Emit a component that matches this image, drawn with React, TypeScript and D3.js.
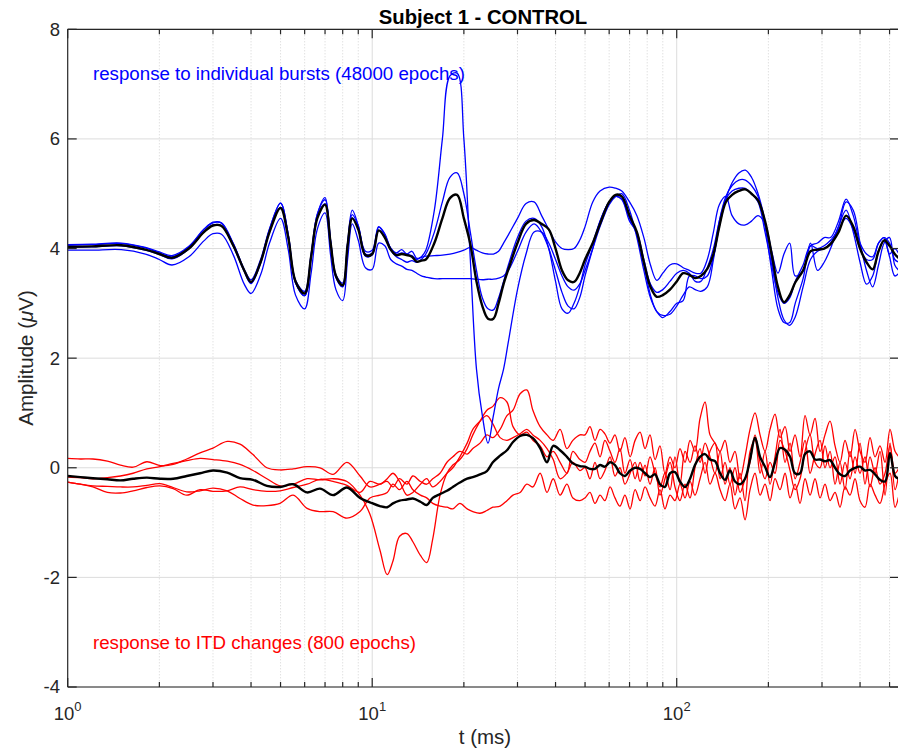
import React from 'react';
import * as d3 from 'd3';

/* ---- burst responses (upper group), t in ms, amplitude in uV ---- */
const burstT = [
  1, 1.2, 1.5, 1.8, 2, 2.2, 2.5, 2.8, 3, 3.2,
  3.5, 3.8, 4, 4.3, 4.6, 5, 5.3, 5.6, 6, 6.3,
  6.6, 7, 7.3, 7.6, 8, 8.3, 8.6, 9, 9.5, 10,
  10.5, 11, 11.5, 12, 12.5, 13, 13.5, 14, 14.5, 15,
  16, 17, 18, 19, 20, 21, 22, 23, 24, 25,
  26, 27, 28, 30, 32, 34, 36, 38, 40, 42,
  44, 46, 48, 50, 53, 56, 60, 63, 66, 70,
  74, 78, 82, 86, 90, 95, 100, 105, 110, 115,
  120, 126, 132, 138, 145, 152, 160, 168, 176, 185,
  195, 205, 215, 225, 235, 245, 260, 275, 290, 305,
  320, 340, 360, 380, 400, 420, 440, 460, 480, 500,
  520, 537,
];

const burstMean = [
  4.03, 4.04, 4.06, 3.98, 3.9, 3.83, 4.0, 4.3, 4.42, 4.41,
  4.05, 3.6, 3.39, 3.75, 4.3, 4.74, 4.2, 3.4, 3.18, 3.85,
  4.55, 4.8, 4.1, 3.5, 3.33, 4.05, 4.55, 4.35, 3.88, 3.9,
  4.33, 4.2, 3.98, 3.88, 3.9, 3.88, 3.85, 3.76, 3.78, 3.8,
  4.1, 4.55, 4.92, 4.98, 4.55, 4.08, 3.4, 2.95, 2.72, 2.72,
  3.0, 3.35, 3.62, 4.1, 4.45, 4.52, 4.45, 4.35, 4.0, 3.6,
  3.42, 3.39, 3.55, 3.8, 4.1, 4.45, 4.85, 4.98, 4.95, 4.6,
  4.3, 3.75, 3.3, 3.12, 3.15, 3.25, 3.4, 3.55, 3.52, 3.46,
  3.5, 3.63, 3.9, 4.4, 4.85, 4.98, 5.05, 5.08, 5.0, 4.88,
  4.5, 3.9, 3.3, 3.02, 3.15, 3.38, 3.6, 3.95, 3.98, 4.0,
  4.08, 4.3, 4.6, 4.4, 4.0, 3.75, 3.62, 3.95, 4.15, 4.05,
  3.9, 3.82,
];

const burstRun1 = [
  4.07, 4.08, 4.1, 4.02, 3.94, 3.87, 4.04, 4.35, 4.47, 4.46,
  4.09, 3.62, 3.43, 3.8, 4.36, 4.83, 4.26, 3.42, 3.22, 3.9,
  4.62, 4.93, 4.15, 3.52, 3.37, 4.1, 4.7, 4.42, 3.95, 3.97,
  4.4, 4.27, 4.0, 3.9, 3.92, 3.9, 3.87, 3.8, 3.85, 3.97,
  4.7, 6.0, 7.15, 7.2, 6.0, 3.8, 1.8, 0.95, 0.45, 0.95,
  1.45, 1.8, 2.3, 3.25, 3.9, 4.3, 4.3, 4.1, 3.8, 3.5,
  3.3, 3.24, 3.35, 3.6, 4.0, 4.4, 4.8, 4.95, 5.0, 4.7,
  4.2, 3.6, 3.1, 2.85, 2.74, 2.85, 3.0, 3.05, 3.5, 3.5,
  3.45, 3.5, 3.85, 4.4, 4.9, 5.2, 5.38, 5.43, 5.3, 5.0,
  4.5, 3.8, 3.1, 2.7, 2.6, 2.75, 3.3, 3.8, 3.95, 4.0,
  4.1, 4.4, 4.85, 4.7, 4.1, 3.6, 3.3, 3.7, 4.1, 4.2,
  3.7, 3.6,
];

const burstRun2 = [
  4.06, 4.07, 4.09, 4.01, 3.92, 3.85, 4.03, 4.35, 4.48, 4.47,
  4.08, 3.6, 3.37, 3.76, 4.35, 4.83, 4.25, 3.38, 3.14, 3.87,
  4.62, 4.89, 4.14, 3.49, 3.31, 4.08, 4.62, 4.41, 3.9, 3.92,
  4.39, 4.25, 4.01, 3.92, 3.98, 3.9, 3.95, 3.82, 3.84, 3.86,
  3.87, 3.88, 3.9, 3.93, 3.97, 4.02, 3.97, 3.92, 3.9, 3.9,
  3.95, 4.1, 4.25, 4.55, 4.82, 4.85, 4.6, 4.35, 4.12, 4.0,
  3.98, 4.0, 4.15, 4.4, 4.85, 5.05, 5.12, 5.1, 5.05, 4.85,
  4.6, 4.2, 3.7, 3.42, 3.55, 3.7, 3.72, 3.65, 3.6, 3.55,
  3.55, 3.8, 4.3, 4.8, 4.95, 4.6, 4.45, 4.43, 4.5, 4.6,
  4.45, 3.95, 3.55, 3.9, 4.1, 3.5, 3.6, 4.05, 4.1, 4.2,
  4.2, 4.5, 4.9, 4.6, 4.1, 3.9, 3.85, 4.1, 4.2, 3.9,
  4.0, 3.9,
];

const burstRun3 = [
  3.97, 3.97, 3.98, 3.9, 3.8, 3.7, 3.85, 4.14, 4.27, 4.26,
  3.88, 3.35, 3.18, 3.52, 4.1, 4.55, 3.98, 3.15, 2.9, 3.55,
  4.35, 4.65, 3.88, 3.25, 3.05, 3.8, 4.45, 4.15, 3.65, 3.62,
  4.1, 4.05, 3.8, 3.72, 3.68, 3.62, 3.6, 3.55, 3.5, 3.48,
  3.45, 3.45, 3.45, 3.45, 3.45, 3.45, 3.44, 3.43, 3.44, 3.44,
  3.46, 3.5, 3.6, 3.95, 4.3, 4.45, 4.3, 4.0, 3.6, 3.2,
  2.95, 2.9, 3.1, 3.5, 4.0, 4.5, 4.85, 4.95, 4.9, 4.55,
  4.25, 3.7, 3.15, 2.85, 2.78, 2.8, 2.95, 3.15, 3.3, 3.25,
  3.22, 3.3, 3.8, 4.5, 4.95, 5.15, 5.25, 5.25, 5.15, 4.95,
  4.4, 3.6, 2.9, 2.65, 2.65, 3.0, 3.45, 4.1, 3.6, 3.75,
  4.0, 4.4, 4.7, 4.3, 3.75, 3.35, 3.5, 3.95, 4.15, 3.85,
  3.5, 3.55,
];

const burstRun4 = [
  4.02, 4.03, 4.05, 3.97, 3.89, 3.81, 3.99, 4.3, 4.43, 4.42,
  4.04, 3.58, 3.36, 3.73, 4.3, 4.75, 4.2, 3.37, 3.14, 3.83,
  4.56, 4.82, 4.09, 3.47, 3.3, 4.04, 4.56, 4.35, 3.86, 3.88,
  4.33, 4.2, 3.97, 3.85, 3.8, 3.75, 3.78, 3.75, 3.8, 3.9,
  4.3, 4.85, 5.3, 5.38, 5.0, 4.3, 3.6, 3.1, 2.9, 2.88,
  3.1, 3.4, 3.7, 4.2, 4.5, 4.55, 4.4, 4.0, 3.4, 2.9,
  2.82, 3.0, 3.3, 3.7, 4.1, 4.5, 4.85, 4.95, 4.9, 4.5,
  4.3, 3.8, 3.35, 3.2, 3.25, 3.4, 3.55, 3.6, 3.55, 3.4,
  3.4, 3.65, 4.0, 4.5, 4.9, 5.05, 5.1, 5.1, 5.0, 4.85,
  4.3, 3.7, 3.2, 3.0, 3.1, 3.4, 3.7, 4.05, 4.0, 4.05,
  4.15, 4.35, 4.55, 4.35, 4.0, 3.8, 3.8, 4.1, 4.2, 4.1,
  3.8, 3.75,
];

/* ---- ITD-change responses (lower group) ---- */
const itdT = [
  1, 1.1, 1.21, 1.35, 1.49, 1.64, 1.82, 2.01, 2.22, 2.46,
  2.72, 3, 3.34, 3.68, 4.06, 4.51, 4.98, 5.5, 6.11, 6.74,
  7.44, 8.26, 9.12, 9.83, 10.6, 11.2, 11.7, 12.3, 13, 13.6,
  14.4, 15.1, 15.8, 16.7, 17.6, 18.4, 19.4, 20.5, 21.4, 22.6,
  23.8, 24.9, 26.3, 27.7, 29, 30.6, 32.2, 33.7, 35.6, 37.5,
  39.3, 41.4, 43.6, 45.6, 48.1, 50, 51.9, 53.9, 56, 58.1,
  60.4, 62.7, 65.1, 67.6, 70.3, 73, 75.8, 78.7, 81.7, 84.9,
  88.1, 91.5, 95.1, 98.7, 102.5, 106.5, 110.6, 114.8, 119.3, 123.9,
  128.6, 133.6, 138.8, 144.1, 149.6, 155.4, 161.4, 167.6, 174.1, 180.8,
  187.8, 195, 202.5, 210.3, 218.4, 226.9, 235.6, 244.7, 254.1, 263.9,
  274.1, 284.6, 295.6, 306.9, 318.8, 331.1, 343.8, 357, 370.8, 385.1,
  399.9, 415.3, 431.3, 448, 465.2, 483.2, 501.8, 521.1, 537,
];

const itdMean = [
  -0.15, -0.17, -0.19, -0.21, -0.23, -0.2, -0.18, -0.2, -0.2, -0.15,
  -0.1, -0.05, -0.09, -0.19, -0.22, -0.33, -0.35, -0.3, -0.45, -0.38,
  -0.5, -0.36, -0.55, -0.63, -0.7, -0.72, -0.65, -0.6, -0.58, -0.56,
  -0.62, -0.68, -0.55, -0.48, -0.42, -0.35, -0.27, -0.2, -0.17, -0.12,
  -0.06, 0.1, 0.22, 0.32, 0.47, 0.58, 0.6, 0.54, 0.36, 0.1,
  0.4, 0.32, 0.2, 0.08, 0.03, 0.02, -0.02, -0.02, 0.05, 0.02,
  0.1, 0.05, -0.1, -0.15, -0.05, 0.0, -0.02, -0.1, -0.17, -0.12,
  -0.3, -0.35, -0.1, -0.08, -0.25, -0.35, -0.2, 0.05, 0.2, 0.25,
  0.15, 0.12, -0.1, -0.22, -0.05, -0.25, -0.3, -0.2, 0.15, 0.55,
  0.2, 0.02, -0.17, 0.1, 0.36, 0.33, 0.2, -0.1, -0.1, 0.25,
  0.3, 0.15, 0.15, 0.12, 0.14, 0.0, -0.12, -0.15, -0.05, 0.0,
  0.02, -0.05, -0.04, -0.12, -0.22, -0.25, 0.27, -0.15, -0.2,
];

const itdRun1 = [
  0.17, 0.16, 0.16, 0.12, 0.05, 0.01, 0.11, 0.04, 0.06, 0.16,
  0.27, 0.36, 0.48, 0.43, 0.24, 0.0, -0.04, -0.02, 0.02, 0.0,
  -0.12, 0.1, -0.15, -0.35, -0.3, -0.25, -0.35, -0.2, -0.3, -0.15,
  -0.25, -0.3, -0.2, -0.1, 0.1, 0.2, 0.3, 0.25, 0.35, 0.45,
  0.6, 0.55, 0.7, 0.95, 1.05, 1.35, 1.42, 1.05, 0.75, 0.6,
  0.5, 0.7, 0.35, 0.5, 0.6, 0.6, 0.75, 0.5, 0.7, 0.62,
  0.45, 0.6, 0.3, 0.55, 0.2, 0.5, 0.65, 0.35, 0.6, 0.15,
  0.4, -0.1, 0.2, 0.0, 0.35, 0.1, 0.5, 0.3, 0.9, 1.2,
  0.6, 0.45, 0.3, 0.5, 0.1, 0.3, -0.2, 0.2, 0.7, 1.0,
  0.6, 0.3, 0.7, 0.98, 0.55, 0.75, 0.3, 0.6, 0.2, 0.95,
  0.6, 0.9, 0.3, 0.6, 0.85, 0.4, 0.1, 0.5, 0.2, 0.7,
  0.3, 0.1, 0.55, 0.2, 0.4, 0.1, 0.7, 0.3, 0.2,
];

const itdRun2 = [
  -0.17, -0.18, -0.2, -0.18, -0.15, -0.1, -0.02, 0.02, 0.08, 0.13,
  0.17, 0.15, 0.12, 0.06, -0.05, -0.2, -0.33, -0.3, -0.2, -0.22,
  -0.2, -0.25, -0.5, -0.85, -1.5, -1.95, -1.7, -1.25, -1.2, -1.35,
  -1.6, -1.73, -1.3, -0.5, -0.1, 0.05, 0.15, 0.35, 0.6, 0.85,
  1.05, 1.12, 1.28, 1.2, 0.75, 0.6, 0.65, 0.5, 0.4, 0.2,
  0.3, 0.1, -0.1, 0.3, 0.15, 0.1, 0.3, 0.45, 0.2, 0.5,
  0.3, 0.1, 0.35, -0.1, 0.15, -0.2, 0.1, -0.15, 0.2, -0.1,
  -0.35, -0.1, -0.4, 0.2, -0.3, 0.3, 0.1, 0.4, 0.1, 0.45,
  0.2, -0.1, 0.3, -0.3, 0.0, -0.5, -0.1, -0.6, 0.3, 0.5,
  -0.1, 0.3, -0.3, 0.2, 0.7, 0.1, 0.45, -0.2, 0.1, 0.5,
  -0.1, 0.25, 0.5, 0.0, 0.3, -0.3, 0.1, -0.4, 0.3, -0.1,
  0.45, -0.3, 0.2, -0.1, 0.3, -0.5, 0.45, -0.4, -0.1,
];

const itdRun3 = [
  -0.26, -0.3, -0.33, -0.34, -0.35, -0.35, -0.32, -0.29, -0.36, -0.44,
  -0.42, -0.37, -0.42, -0.56, -0.68, -0.69, -0.65, -0.5, -0.74, -0.8,
  -0.8, -0.92, -0.8, -0.55, -0.5, -0.45, -0.3, -0.4, -0.25, -0.4,
  -0.5, -0.55, -0.65, -0.7, -0.72, -0.75, -0.65, -0.75, -0.8, -0.83,
  -0.78, -0.72, -0.7, -0.6, -0.5, -0.45, -0.3, -0.35, -0.1, -0.45,
  -0.2, -0.5, -0.3, -0.55, -0.6, -0.55, -0.45, -0.65, -0.5, -0.6,
  -0.35, -0.55, -0.7, -0.5, -0.75, -0.4, -0.6, -0.35, -0.55, -0.7,
  -0.4, -0.75, -0.5, -0.6, -0.3, -0.55, -0.25, -0.5, -0.2, 0.1,
  -0.3, -0.1, -0.4, -0.6, -0.3, -0.75, -0.55, -0.95, -0.4, -0.1,
  -0.5, -0.3, -0.6, -0.2, -0.4, -0.1, -0.55, -0.3, -0.65, -0.2,
  -0.5, -0.2, -0.55, -0.3, -0.6, -0.45, -0.72, -0.35, -0.5, -0.2,
  -0.6, -0.72, -0.3, -0.5, -0.65, -0.3, -0.1, -0.72, -0.5,
];

const itdRun4 = [
  -0.26, -0.3, -0.35, -0.45, -0.46, -0.42, -0.36, -0.33, -0.38, -0.5,
  -0.4, -0.43, -0.42, -0.35, -0.4, -0.43, -0.42, -0.36, -0.3, -0.21,
  -0.25, -0.32, -0.45, -0.25, -0.3, -0.2, -0.1, -0.25, -0.5, -0.45,
  -0.3, -0.2, -0.35, -0.25, -0.1, 0.0, 0.2, 0.45, 0.7, 0.85,
  0.95, 0.8, 0.55, 0.5, 0.55, 0.62, 0.7, 0.6, 0.5, 0.35,
  0.15, -0.2, -0.1, 0.1, -0.05, 0.0, -0.2, 0.1, -0.2, -0.05,
  0.2, -0.15, 0.0, -0.3, -0.1, 0.1, -0.25, 0.05, -0.3, 0.0,
  -0.5, -0.2, 0.1, -0.35, -0.6, -0.3, -0.55, 0.0, 0.35, -0.1,
  0.3, 0.45, -0.2, 0.1, -0.3, 0.0, -0.45, -0.2, 0.1, 0.6,
  0.1, -0.2, 0.1, -0.1, 0.5, 0.3, -0.05, -0.4, -0.2, 0.3,
  0.6, 0.1, 0.0, 0.4, 0.0, 0.2, -0.3, 0.1, -0.2, 0.2,
  -0.1, 0.2, -0.35, 0.0, -0.3, -0.1, 0.4, -0.1, 0.0,
];

const yTicks = [-4, -2, 0, 2, 4, 6, 8];
const xDecades = [1, 10, 100];
const xMinor = [2, 3, 4, 5, 6, 7, 8, 9, 20, 30, 40, 50, 60, 70, 80, 90, 200, 300, 400, 500];

const W = 898;
const H = 754;
const box = { left: 67.7, right: 899, top: 29.3, bottom: 687 };
const AXIS = '#262626';
const FONT = "'Liberation Sans', Arial, Helvetica, sans-serif";

export default function App() {
  const x = d3.scaleLog().domain([1, 537]).range([box.left, box.right]);
  const y = d3.scaleLinear().domain([-4, 8]).range([box.bottom, box.top]);

  const path = (ts: number[], vs: number[]) =>
    d3.line<number[]>()
      .x(d => x(d[0]))
      .y(d => y(d[1]))
      .curve(d3.curveCatmullRom.alpha(0.5))(d3.zip(ts, vs)) || '';

  const thin = 1.3;
  const thick = 2.4;

  return (
    <svg width={W} height={H} style={{ position: 'absolute', left: 0, top: 0, background: '#fff' }} fontFamily={FONT}>
      <defs>
        <clipPath id="plotArea">
          <rect x={box.left} y={box.top} width={box.right - box.left} height={box.bottom - box.top} />
        </clipPath>
      </defs>

      {/* grid */}
      <g>
        {xMinor.map(t => (
          <line key={'gm' + t} x1={x(t)} x2={x(t)} y1={box.top} y2={box.bottom}
            stroke="#c9c9c9" strokeWidth={0.8} strokeDasharray="1,2" />
        ))}
        {xDecades.slice(1).map(t => (
          <line key={'gx' + t} x1={x(t)} x2={x(t)} y1={box.top} y2={box.bottom} stroke="#dcdcdc" strokeWidth={1} />
        ))}
        {yTicks.map(v => (
          <line key={'gy' + v} x1={box.left} x2={box.right} y1={y(v)} y2={y(v)} stroke="#dcdcdc" strokeWidth={1} />
        ))}
      </g>

      {/* traces */}
      <g clipPath="url(#plotArea)" fill="none" strokeLinejoin="round">
        {[itdRun1, itdRun2, itdRun3, itdRun4].map((vs, i) => (
          <path key={'r' + i} d={path(itdT, vs)} stroke="#ff0000" strokeWidth={thin} />
        ))}
        <path d={path(itdT, itdMean)} stroke="#000" strokeWidth={thick} />
        {[burstRun4, burstRun3, burstRun2, burstRun1].map((vs, i) => (
          <path key={'b' + i} d={path(burstT, vs)} stroke="#0000ff" strokeWidth={thin} />
        ))}
        <path d={path(burstT, burstMean)} stroke="#000" strokeWidth={thick} />
      </g>

      {/* annotations */}
      <text x={93} y={80} fontSize={18.7} fill="#0000ff">response to individual bursts (48000 epochs)</text>
      <text x={93} y={649} fontSize={18.7} fill="#ff0000">response to ITD changes (800 epochs)</text>

      {/* box and ticks */}
      <g stroke={AXIS} strokeWidth={1.2}>
        <line x1={box.left} x2={box.right} y1={box.top} y2={box.top} />
        <line x1={box.left} x2={box.right} y1={box.bottom} y2={box.bottom} />
        <line x1={box.left} x2={box.left} y1={box.top} y2={box.bottom} />
        <line x1={box.right} x2={box.right} y1={box.top} y2={box.bottom} />
        {xDecades.map(t => (
          <g key={'tx' + t}>
            <line x1={x(t)} x2={x(t)} y1={box.bottom} y2={box.bottom - 9} />
            <line x1={x(t)} x2={x(t)} y1={box.top} y2={box.top + 9} />
          </g>
        ))}
        {xMinor.map(t => (
          <g key={'tm' + t}>
            <line x1={x(t)} x2={x(t)} y1={box.bottom} y2={box.bottom - 5} />
            <line x1={x(t)} x2={x(t)} y1={box.top} y2={box.top + 5} />
          </g>
        ))}
        {yTicks.map(v => (
          <g key={'ty' + v}>
            <line x1={box.left} x2={box.left + 9} y1={y(v)} y2={y(v)} />
            <line x1={box.right} x2={box.right - 9} y1={y(v)} y2={y(v)} />
          </g>
        ))}
      </g>

      {/* tick labels */}
      <g fill={AXIS} fontSize={18.5}>
        {yTicks.map(v => (
          <text key={'ly' + v} x={60} y={y(v)} dy="0.35em" textAnchor="end">{v}</text>
        ))}
        {xDecades.map(t => (
          <text key={'lx' + t} x={x(t)} y={720} textAnchor="middle">
            10<tspan dy={-9} fontSize={13}>{Math.round(Math.log10(t))}</tspan>
          </text>
        ))}
      </g>

      {/* axis labels and title */}
      <text x={485} y={744} textAnchor="middle" fontSize={20.5} fill={AXIS}>t (ms)</text>
      <text transform="translate(33,358) rotate(-90)" textAnchor="middle" fontSize={20.5} fill={AXIS}>
        Amplitude (<tspan fontStyle="italic">μ</tspan>V)
      </text>
      <text x={483} y={24} textAnchor="middle" fontSize={20.3} fontWeight="bold" fill="#000">Subject 1 - CONTROL</text>
    </svg>
  );
}
